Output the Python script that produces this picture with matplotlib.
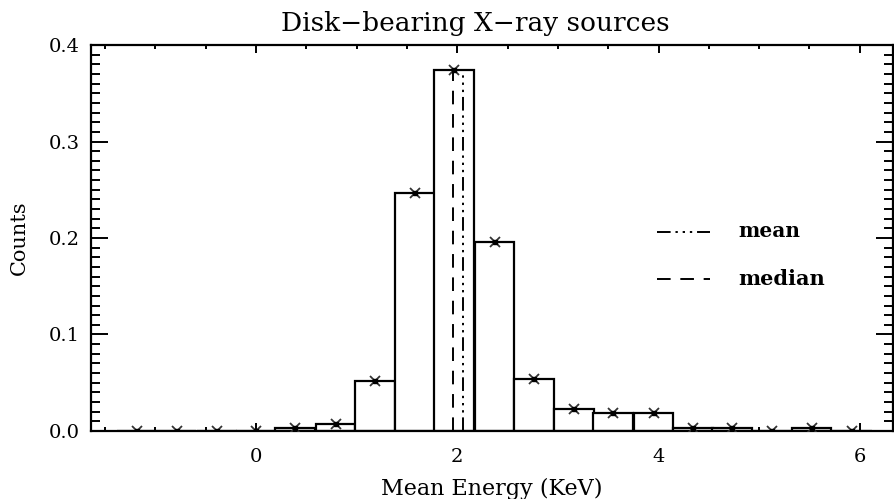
import matplotlib
matplotlib.use("Agg")
import matplotlib.pyplot as plt
import numpy as np

# bin centres (KeV) and normalised counts
energy = [-1.18, -0.79, -0.39, 0.00, 0.39, 0.79, 1.18, 1.58, 1.97, 2.37,
          2.76, 3.16, 3.55, 3.95, 4.34, 4.73, 5.13, 5.52, 5.92]
counts = [0.0, 0.0, 0.0, 0.0, 0.003, 0.0075, 0.052, 0.247, 0.374, 0.196,
          0.054, 0.023, 0.019, 0.019, 0.003, 0.003, 0.0, 0.003, 0.0]
bin_width = 0.395

mean_energy = 2.056
median_energy = 1.957
line_top = 0.372

plt.rcParams['font.family'] = 'DejaVu Serif'

fig = plt.figure(figsize=(8.94, 4.99), dpi=100)
ax = fig.add_axes([0.1018, 0.1363, 0.8971, 0.7735])

# histogram bars (outline only)
ax.bar(energy, counts, width=bin_width, align='center',
       facecolor='white', edgecolor='black', linewidth=1.6, zorder=2)
# star markers on bar tops
ax.plot(energy, counts, linestyle='none', marker='x', markersize=7.5,
        markeredgewidth=1.3, color='#333333', zorder=4)
ax.plot(energy, counts, linestyle='none', marker='s', markersize=3.5,
        color='black', zorder=5)

# mean / median lines
mean_ls = (0, (7, 2.5, 1.2, 2.5, 1.2, 2.5, 1.2, 2.5))
median_ls = (0, (7, 5))
ax.plot([mean_energy, mean_energy], [0, line_top], color='black',
        linewidth=1.4, linestyle=mean_ls, zorder=3)
ax.plot([median_energy, median_energy], [0, line_top], color='black',
        linewidth=1.4, linestyle=median_ls, zorder=3)

# hand made legend
ax.plot([3.98, 4.51], [0.206, 0.206], color='black', linewidth=1.4,
        linestyle=mean_ls)
ax.plot([3.98, 4.51], [0.157, 0.157], color='black', linewidth=1.4,
        linestyle=median_ls)
ax.text(4.79, 0.207, 'mean', fontsize=14.5, fontweight='bold', va='center')
ax.text(4.79, 0.158, 'median', fontsize=15, fontweight='bold', va='center')

ax.set_xlim(-1.64, 6.33)
ax.set_ylim(0, 0.4)
ax.set_xticks([0, 2, 4, 6])
ax.set_xticks(np.arange(-1.5, 6.3, 0.5), minor=True)
ax.set_yticks([0.0, 0.1, 0.2, 0.3, 0.4])
ax.set_yticks(np.arange(0, 0.401, 0.01), minor=True)
ax.set_yticklabels(['0.0', '0.1', '0.2', '0.3', '0.4'])

ax.tick_params(which='both', direction='in', top=True, right=True,
               width=1.4, labelsize=14, colors='black')
ax.tick_params(axis='x', which='major', length=6, pad=12)
ax.tick_params(axis='x', which='minor', length=3)
ax.tick_params(axis='y', which='major', length=12.5, pad=8)
ax.tick_params(axis='y', which='minor', length=6.5)

for s in ax.spines.values():
    s.set_linewidth(1.6)

ax.set_xlabel('Mean Energy (KeV)', fontsize=16, labelpad=9)
ax.set_ylabel('Counts', fontsize=15, labelpad=14)
ax.set_title('Disk\u2212bearing X\u2212ray sources', fontsize=19, pad=10,
             x=0.479)

fig.savefig('out.png', dpi=100)
